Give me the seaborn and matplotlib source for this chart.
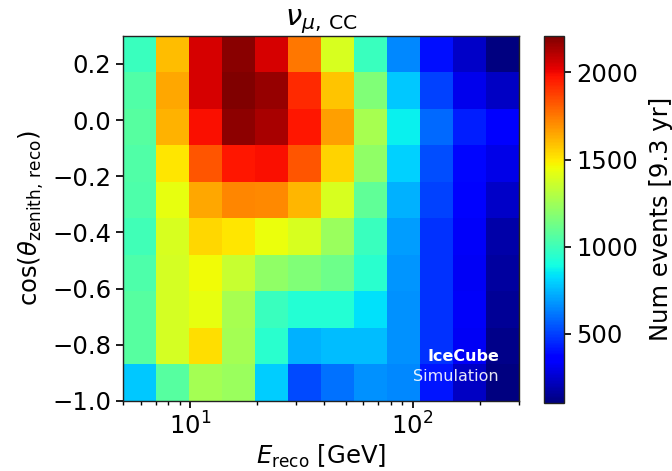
import numpy as np
import pandas as pd
import matplotlib
matplotlib.use("Agg")
import matplotlib.pyplot as plt
import seaborn as sns

# Binning: reconstructed energy [GeV] (log-spaced) and cos(zenith)
energy_edges = np.logspace(np.log10(5.0), np.log10(300.0), 13)
coszen_edges = np.linspace(-1.0, 0.3, 11)

# Expected nu_mu CC event counts per bin (9.3 yr).
# One row per cos(zenith) bin, from the top bin (0.3) down to -1.0;
# columns follow the energy bins from low to high.
counts = [
    [990, 1595, 2048, 2190, 2048, 1754, 1390, 990, 650, 400, 245, 110],
    [1050, 1643, 2048, 2210, 2164, 1930, 1580, 1168, 780, 505, 310, 236],
    [1067, 1620, 1987, 2183, 2132, 1970, 1663, 1273, 865, 583, 434, 340],
    [1050, 1505, 1825, 1970, 1987, 1825, 1550, 1208, 800, 533, 380, 296],
    [1040, 1436, 1643, 1720, 1710, 1612, 1390, 1086, 737, 505, 370, 245],
    [1010, 1390, 1537, 1505, 1440, 1390, 1232, 990, 690, 470, 330, 180],
    [1040, 1380, 1455, 1350, 1208, 1168, 1120, 947, 680, 470, 320, 170],
    [1060, 1380, 1436, 1273, 990, 930, 930, 830, 665, 470, 330, 150],
    [1060, 1380, 1522, 1260, 947, 737, 760, 760, 665, 470, 320, 125],
    [780, 1060, 1260, 1240, 790, 517, 600, 665, 650, 415, 236, 106],
]
color_min, color_max = 106, 2210

title = r"$\nu_{\mu,\,\mathrm{CC}}$"
xlabel = r"$E_{\mathrm{reco}}$ [GeV]"
ylabel = r"$\cos(\theta_{\mathrm{zenith,\,reco}})$"
cbar_label = "Num events [9.3 yr]"
cbar_ticks = [500, 1000, 1500, 2000]
y_ticks = [-1.0, -0.8, -0.6, -0.4, -0.2, 0.0, 0.2]

# Long-form table: one weighted entry at the centre of every bin
e_centers = np.sqrt(energy_edges[:-1] * energy_edges[1:])
cz_centers = 0.5 * (coszen_edges[:-1] + coszen_edges[1:])
grid = np.array(counts[::-1])
E, CZ = np.meshgrid(e_centers, cz_centers)
df = pd.DataFrame({"E": E.ravel(), "cz": CZ.ravel(), "n": grid.ravel()})

sns.set_theme(style="ticks", rc={
    "font.size": 17.5,
    "axes.labelsize": 17.5,
    "axes.titlesize": 21,
    "xtick.labelsize": 17.5,
    "ytick.labelsize": 17.5,
    "xtick.major.size": 5,
    "ytick.major.size": 5,
    "xtick.minor.size": 3,
    "ytick.minor.size": 3,
    "axes.edgecolor": "#222222",
    "axes.linewidth": 1.0,
    "text.color": "black",
    "axes.labelcolor": "black",
    "xtick.color": "black",
    "ytick.color": "black",
})
plt.rcParams["font.family"] = ["DejaVu Sans"]
plt.rcParams["mathtext.fontset"] = "dejavusans"

fig = plt.figure(figsize=(6.72, 4.71), dpi=100)
ax = fig.add_axes([0.183, 0.149, 0.589, 0.775])
cax = fig.add_axes([0.810, 0.145, 0.030, 0.779])

sns.histplot(
    data=df, x="E", y="cz", weights="n",
    bins=(12, 10),
    binrange=((np.log10(energy_edges[0]), np.log10(energy_edges[-1])),
              (coszen_edges[0], coszen_edges[-1])),
    log_scale=(True, False),
    cmap=matplotlib.colormaps["jet"], vmin=color_min, vmax=color_max,
    cbar=False, ax=ax,
)

mesh = ax.collections[0]
cb = fig.colorbar(mesh, cax=cax)
cb.set_ticks(cbar_ticks)
cb.set_label(cbar_label, labelpad=8)
cb.outline.set_edgecolor("#222222")

ax.set_xlim(energy_edges[0], energy_edges[-1])
ax.set_ylim(coszen_edges[0], coszen_edges[-1])
ax.set_yticks(y_ticks)
ax.set_yticklabels([f"{t:.1f}".replace("-", "\u2212") for t in y_ticks])
ax.set_xlabel(xlabel, labelpad=2)
ax.set_ylabel(ylabel)
ax.set_title(title, pad=5)

ax.text(0.95, 0.10, "IceCube", transform=ax.transAxes, ha="right",
        va="bottom", color="white", fontsize=11.5, fontweight="bold")
ax.text(0.95, 0.045, "Simulation", transform=ax.transAxes, ha="right",
        va="bottom", color="white", fontsize=11.5, alpha=0.9)

fig.savefig("out.png", dpi=100)
